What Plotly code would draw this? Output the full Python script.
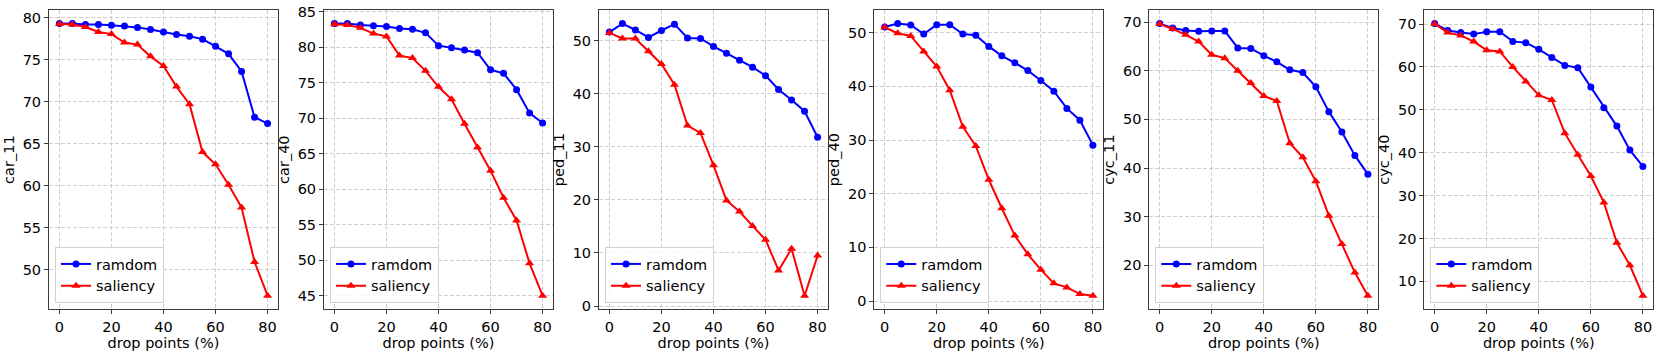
import plotly.graph_objects as go

drop_points = [0, 5, 10, 15, 20, 25, 30, 35, 40, 45, 50, 55, 60, 65, 70, 75, 80]

panel_names = ["car_11", "car_40", "ped_11", "ped_40", "cyc_11", "cyc_40"]

random_car_11 = [79.3, 79.3, 79.2, 79.2, 79.1, 79.0, 78.85, 78.6, 78.3, 78.0, 77.8, 77.45, 76.6, 75.7, 73.6, 68.15, 67.4]
saliency_car_11 = [79.25, 79.2, 78.9, 78.3, 78.05, 77.05, 76.8, 75.4, 74.25, 71.8, 69.7, 64.0, 62.55, 60.1, 57.4, 50.9, 46.9]

random_car_40 = [83.3, 83.3, 83.1, 83.0, 82.9, 82.6, 82.5, 82.0, 80.2, 79.9, 79.6, 79.2, 76.8, 76.3, 74.0, 70.7, 69.3]
saliency_car_40 = [83.2, 83.1, 82.7, 81.9, 81.5, 78.8, 78.45, 76.65, 74.4, 72.65, 69.2, 65.85, 62.6, 58.8, 55.6, 49.55, 45.0]

random_ped_11 = [51.6, 53.2, 52.0, 50.6, 51.9, 53.1, 50.5, 50.4, 48.9, 47.6, 46.3, 45.0, 43.4, 40.8, 38.8, 36.7, 31.8]
saliency_ped_11 = [51.45, 50.4, 50.4, 48.0, 45.6, 41.7, 34.0, 32.6, 26.5, 19.9, 17.8, 15.1, 12.5, 6.7, 10.8, 1.95, 9.5]

random_ped_40 = [51.05, 51.7, 51.45, 49.75, 51.5, 51.5, 49.75, 49.55, 47.45, 45.7, 44.4, 42.95, 41.1, 39.1, 35.9, 33.7, 29.05]
saliency_ped_40 = [51.0, 49.9, 49.4, 46.5, 43.7, 39.3, 32.5, 28.9, 22.6, 17.3, 12.2, 8.7, 5.85, 3.3, 2.55, 1.3, 1.0]

random_cyc_11 = [69.7, 68.8, 68.3, 68.15, 68.2, 68.2, 64.7, 64.6, 63.1, 61.85, 60.2, 59.65, 56.7, 51.6, 47.4, 42.6, 38.7]
saliency_cyc_11 = [69.6, 68.6, 67.4, 66.0, 63.3, 62.6, 60.0, 57.5, 54.8, 53.8, 45.1, 42.2, 37.3, 30.2, 24.4, 18.5, 13.75]

random_cyc_40 = [70.1, 68.5, 68.0, 67.65, 68.2, 68.2, 65.95, 65.65, 64.1, 62.2, 60.35, 59.8, 55.3, 50.5, 46.2, 40.6, 36.8]
saliency_cyc_40 = [70.0, 68.0, 67.35, 65.9, 63.9, 63.6, 60.0, 56.6, 53.4, 52.3, 44.55, 39.5, 34.55, 28.4, 19.0, 13.75, 6.65]

random_series = [random_car_11, random_car_40, random_ped_11, random_ped_40, random_cyc_11, random_cyc_40]
saliency_series = [saliency_car_11, saliency_car_40, saliency_ped_11, saliency_ped_40, saliency_cyc_11, saliency_cyc_40]
y_dticks = [5, 5, 10, 10, 10, 10]
x_ticks = [0, 20, 40, 60, 80]

W, H = 1661, 354
lefts = [49, 324, 599, 874.3, 1149.3, 1424.3]
pw = 229
top_px, bot_px = 10, 309.3

FONT = "DejaVu Sans"
FS = 14.5
fig = go.Figure()
layout = dict(
    width=W, height=H,
    margin=dict(l=0, r=0, t=0, b=0),
    paper_bgcolor="white", plot_bgcolor="white",
    font=dict(family=FONT, size=FS, color="black"),
    showlegend=True,
)

for i in range(6):
    sfx = "" if i == 0 else str(i + 1)
    xa, ya = "x" + sfx, "y" + sfx
    leg = "legend" + sfx
    fig.add_trace(go.Scatter(
        x=drop_points, y=random_series[i], name="ramdom", mode="lines+markers",
        line=dict(color="#0000ff", width=2), marker=dict(symbol="circle", size=7, color="#0000ff"),
        xaxis=xa, yaxis=ya, legend=leg))
    fig.add_trace(go.Scatter(
        x=drop_points, y=saliency_series[i], name="saliency", mode="lines+markers",
        line=dict(color="#ff0000", width=2), marker=dict(symbol="triangle-up", size=8, color="#ff0000"),
        xaxis=xa, yaxis=ya, legend=leg))

    allv = random_series[i] + saliency_series[i]
    lo, hi = min(allv), max(allv)
    pad = 0.05 * (hi - lo)
    x0 = lefts[i] / W
    x1 = (lefts[i] + pw) / W
    axis_common = dict(
        showline=True, mirror=True, linecolor="#3a3a3a", linewidth=1,
        ticks="outside", ticklen=4, tickcolor="#3a3a3a",
        showgrid=True, gridcolor="#cfcfcf", griddash="4px,2px", gridwidth=1,
        zeroline=False, tickfont=dict(size=FS, family=FONT, color="black"),
        automargin=False,
    )
    layout["xaxis" + sfx] = dict(
        axis_common, domain=[x0, x1], anchor=ya,
        range=[-4, 84], tickvals=x_ticks,
        title=dict(text="drop points (%)", font=dict(size=FS, family=FONT), standoff=0),
    )
    layout["yaxis" + sfx] = dict(
        axis_common, domain=[1 - bot_px / H, 1 - top_px / H], anchor=xa,
        range=[lo - pad, hi + pad], dtick=y_dticks[i], tick0=0,
        title=dict(text=panel_names[i], font=dict(size=FS, family=FONT), standoff=4),
    )
    layout[leg] = dict(
        x=(lefts[i] + 6) / W, y=1 - 303 / H, xanchor="left", yanchor="bottom",
        xref="paper", yref="paper",
        bgcolor="rgba(255,255,255,0.8)", bordercolor="#d0d0d0", borderwidth=1,
        font=dict(size=FS, family=FONT, color="black"),
        tracegroupgap=0, itemwidth=30,
    )

fig.update_layout(**layout)
fig.write_html(
    "out.html",
    config={"displayModeBar": False},
    post_script="document.body.style.margin='0';document.body.style.padding='0';document.body.style.overflow='hidden';",
)
